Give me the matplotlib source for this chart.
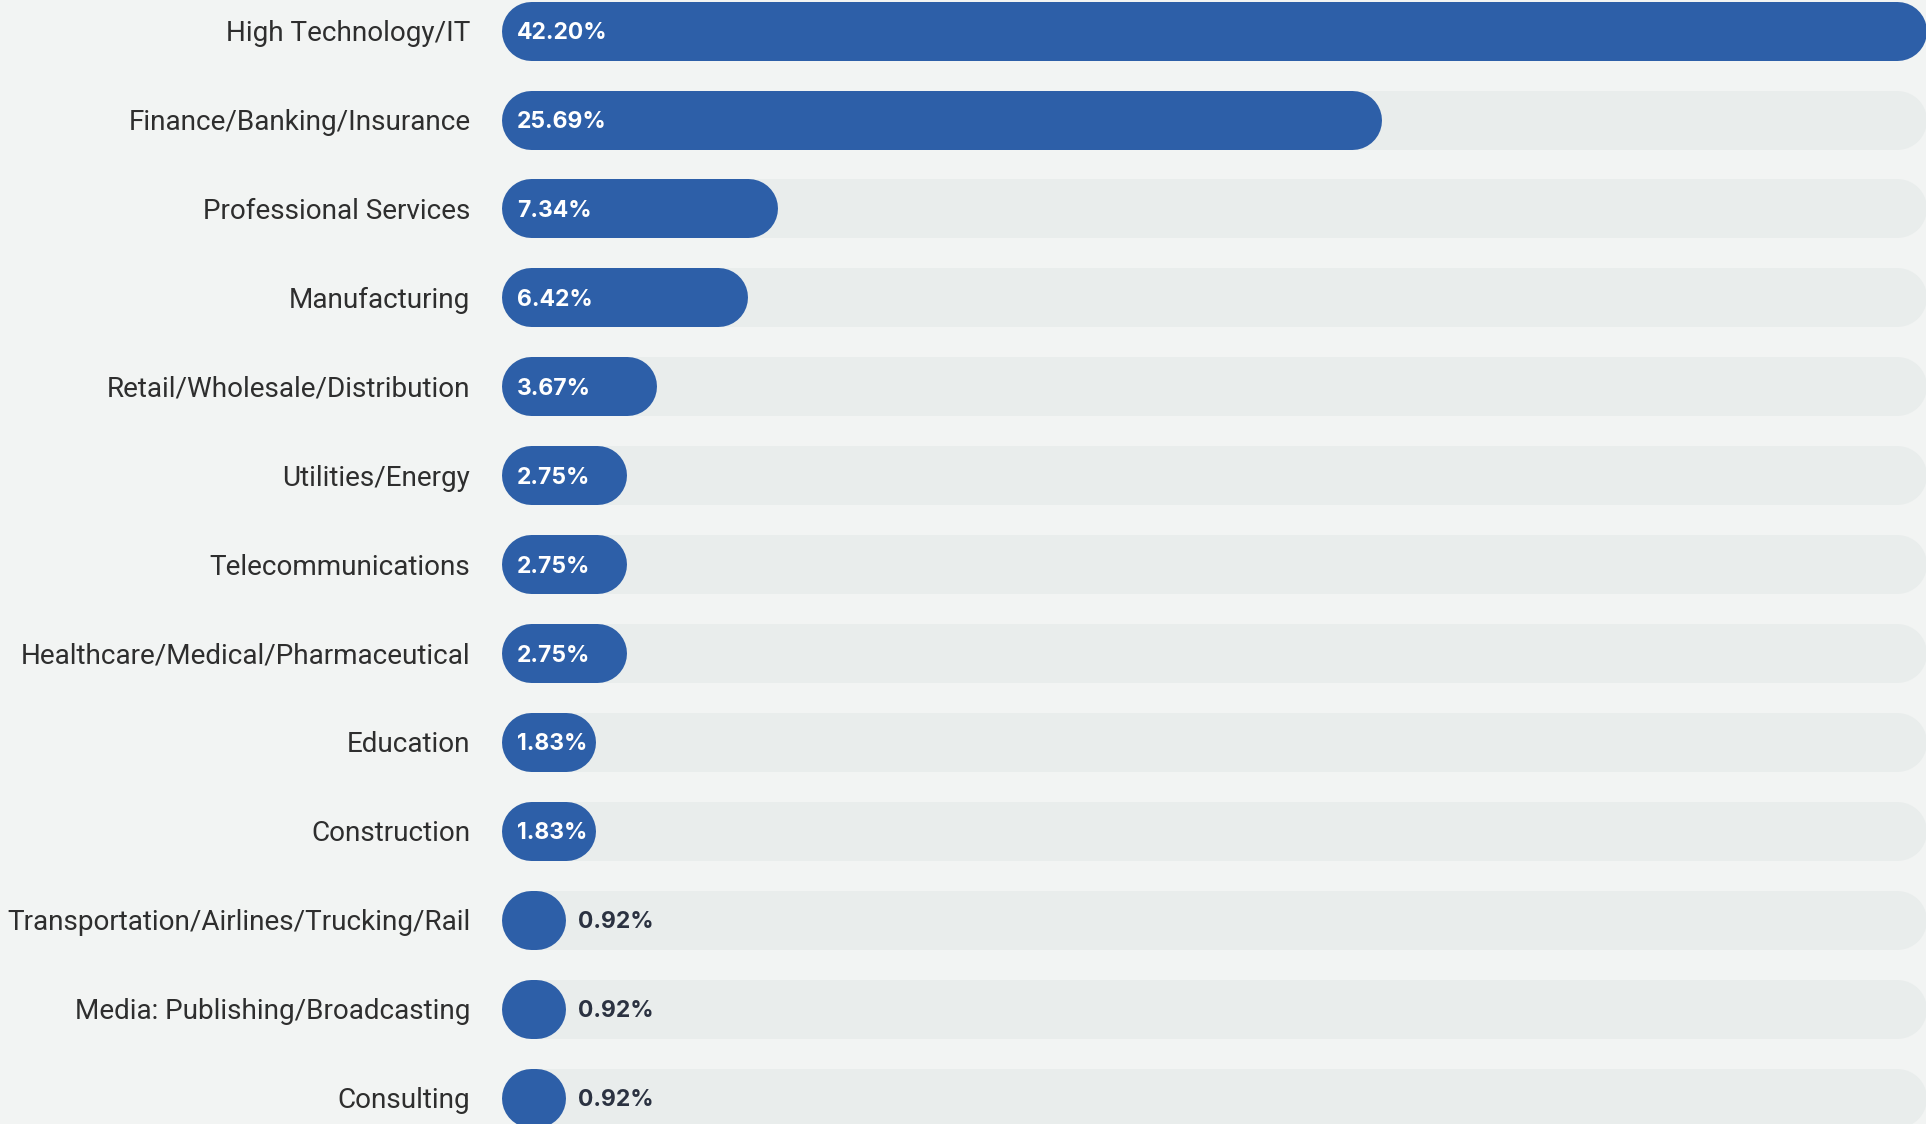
import matplotlib
matplotlib.use("Agg")
import matplotlib.pyplot as plt

industries = [
    "High Technology/IT",
    "Finance/Banking/Insurance",
    "Professional Services",
    "Manufacturing",
    "Retail/Wholesale/Distribution",
    "Utilities/Energy",
    "Telecommunications",
    "Healthcare/Medical/Pharmaceutical",
    "Education",
    "Construction",
    "Transportation/Airlines/Trucking/Rail",
    "Media: Publishing/Broadcasting",
    "Consulting",
]
shares = [42.20, 25.69, 7.34, 6.42, 3.67, 2.75, 2.75, 2.75, 1.83, 1.83, 0.92, 0.92, 0.92]

BG = "#f2f4f3"
TRACK = "#e9edec"
BLUE = "#2d5fa8"
DARK = "#2b3241"

W, H, DPI = 1926, 1124, 100
LEFT_PX, ROW0_PX, STEP_PX, BAR_PX = 501, 30.7, 88.9, 59

fig = plt.figure(figsize=(W / DPI, H / DPI), dpi=DPI, facecolor=BG)
ax = fig.add_axes([LEFT_PX / W, 0, 1 - LEFT_PX / W, 1])
ax.set_facecolor(BG)

vmax = max(shares)
ax.set_xlim(0, vmax)
ax.set_ylim((H - ROW0_PX) / STEP_PX, -ROW0_PX / STEP_PX)

lw = BAR_PX * 72 / DPI
px = vmax / (W - LEFT_PX)          # one pixel in data units
r = (BAR_PX / 2) * px              # cap radius
base = r + 5 * px                  # minimum bar length before scaling

label_font = ["Roboto", "DejaVu Sans"]
value_font = ["Inter", "DejaVu Sans"]

for i, (name, v) in enumerate(zip(industries, shares)):
    ax.plot([r, vmax - r], [i, i], color=TRACK, lw=lw, solid_capstyle="round", zorder=1)
    right = base + v * (vmax - base) / vmax
    ax.plot([r, right - r], [i, i], color=BLUE, lw=lw,
            solid_capstyle="round", zorder=2)
    label = f"{v:.2f}%"
    if v > 1.5:
        ax.annotate(label, (0, i), xytext=(11.5, -1.8), textcoords="offset points",
                    ha="left", va="center", color="white", fontsize=16.5,
                    fontweight="bold", family=value_font, zorder=3)
    else:
        ax.annotate(label, (right, i), xytext=(8.5, -1.8), textcoords="offset points",
                    ha="left", va="center", color=DARK, fontsize=16.5,
                    fontweight="bold", family=value_font, zorder=3)

ax.set_yticks(range(len(industries)))
ax.set_yticklabels(industries, fontsize=20.1, color="#2e2e2e")
ax.tick_params(axis="y", length=0, pad=22)
ax.set_xticks([])
for s in ax.spines.values():
    s.set_visible(False)

for t in ax.get_yticklabels():
    t.set_fontfamily(label_font)

fig.savefig("out.png", dpi=DPI, facecolor=BG)
